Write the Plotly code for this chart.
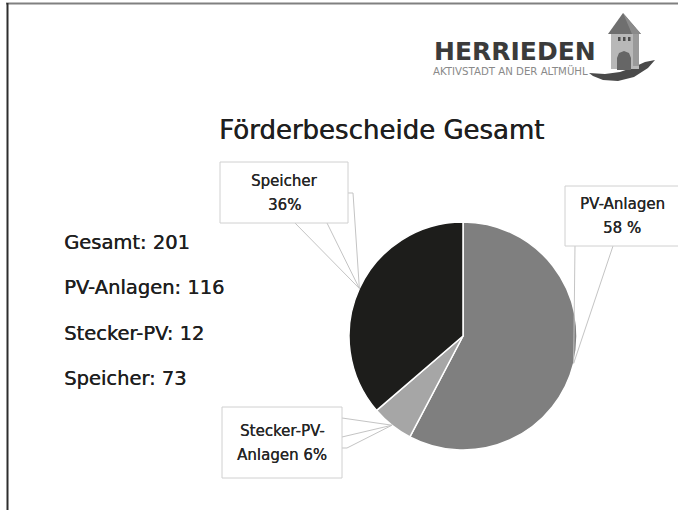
import math
import plotly.graph_objects as go

# ---------------- data ----------------
categories = ["PV-Anlagen", "Stecker-PV-Anlagen", "Speicher"]
counts = [116, 12, 73]
slice_colors = ["#7f7f7f", "#a6a6a6", "#1d1d1b"]
callout_lines = [["PV-Anlagen", "58 %"], ["Stecker-PV-", "Anlagen 6%"], ["Speicher", "36%"]]
summary_labels = ["Gesamt", "PV-Anlagen", "Stecker-PV", "Speicher"]
summary_values = [201, 116, 12, 73]
title_text = "Förderbescheide Gesamt"
logo_name = "HERRIEDEN"
logo_sub = "AKTIVSTADT AN DER ALTMÜHL"

# ---------------- geometry (pixels) ----------------
W, H = 678, 510
CX, CY, R = 463, 336, 114
FONT = "DejaVu Sans"


def X(p):
    return p / W


def Y(p):
    return 1 - p / H


def path(points, close=False):
    s = "M " + " L ".join(f"{X(a):.5f},{Y(b):.5f}" for a, b in points)
    return s + (" Z" if close else "")


fig = go.Figure()
fig.add_trace(go.Pie(
    labels=categories, values=counts, sort=False, direction="clockwise", rotation=0,
    marker=dict(colors=slice_colors, line=dict(color="white", width=1.5)),
    textinfo="none", showlegend=False, hoverinfo="label+value+percent",
    domain=dict(x=[X(CX - R), X(CX + R)], y=[Y(CY + R), Y(CY - R)]),
))

# slice mid-angle tips on the pie edge
total = sum(counts)
tips = []
acc = 0
for v in counts:
    mid = (acc + v / 2) / total * 2 * math.pi
    tips.append((CX + R * math.sin(mid), CY - R * math.cos(mid)))
    acc += v

shapes = []
annotations = []
LINE = dict(color="#c4c4c4", width=1)
BOX = dict(color="#d0d0d0", width=1)

# callout boxes: (x0, y0, x1, y1), connector segments
boxes = [
    (565, 186, 684, 246, [[(575, 246), "tip", (613, 246)]]),
    (222, 407, 342, 478, [[(342, 418), "tip"], [(342, 437), "tip"], [(342, 448), (347, 448), "tip"]]),
    (220, 162, 348, 223, [[(295, 223), "tip", (327, 223)], [(348, 193), (353, 193), "tip"]]),
]
for i, (x0, y0, x1, y1, segs) in enumerate(boxes):
    for seg in segs:
        pts = [tips[i] if p == "tip" else p for p in seg]
        shapes.append(dict(type="path", xref="paper", yref="paper", path=path(pts), line=LINE, layer="above"))
    shapes.append(dict(type="rect", xref="paper", yref="paper", x0=X(x0), x1=X(x1), y0=Y(y1), y1=Y(y0),
                       line=BOX, fillcolor="white", layer="above"))
    cx = (x0 + min(x1, W)) / 2 if i != 0 else 622
    cy = (y0 + y1) / 2
    for j, t in enumerate(callout_lines[i]):
        annotations.append(dict(x=X(cx), y=Y(cy - 12 + 24 * j), xref="paper", yref="paper", text=t,
                                showarrow=False, xanchor="center", yanchor="middle",
                                font=dict(family=FONT, size=15, color="#262626",
                                          shadow="0.3px 0 0 #262626")))

# summary text on the left
for k, (lab, val) in enumerate(zip(summary_labels, summary_values)):
    annotations.append(dict(x=X(62), y=Y(242 + 45.5 * k), xref="paper", yref="paper", text=f"{lab}: {val}",
                            showarrow=False, xanchor="left", yanchor="middle",
                            font=dict(family=FONT, size=19.5, color="#1f1f1f",
                                      shadow="0.4px 0 0 #1f1f1f")))

# title
annotations.append(dict(x=X(381), y=Y(130), xref="paper", yref="paper", text=title_text, showarrow=False,
                        xanchor="center", yanchor="middle",
                        font=dict(family=FONT, size=26, color="#1f1f1f", shadow="0.5px 0 0 #1f1f1f")))

# logo text
annotations.append(dict(x=X(432), y=Y(52), xref="paper", yref="paper", text=f"<b>{logo_name}</b>", showarrow=False,
                        xanchor="left", yanchor="middle", font=dict(family=FONT, size=25, color="#3b3b3b")))
annotations.append(dict(x=X(431), y=Y(71.5), xref="paper", yref="paper", text=logo_sub, showarrow=False,
                        xanchor="left", yanchor="middle", font=dict(family=FONT, size=10.2, color="#8a8a8a")))

# logo tower
shapes += [
    dict(type="path", xref="paper", yref="paper",
         path=path([(589, 73), (605, 74), (620, 72), (634, 67), (645, 62), (655, 60), (648, 68), (634, 77), (618, 81), (603, 80), (593, 76)], True),
         fillcolor="#4a4a4a", line=dict(width=0)),
    dict(type="rect", xref="paper", yref="paper", x0=X(611), x1=X(639), y0=Y(69), y1=Y(33),
         fillcolor="#b8b8b8", line=dict(width=0)),
    dict(type="rect", xref="paper", yref="paper", x0=X(633), x1=X(639), y0=Y(66), y1=Y(33),
         fillcolor="#9a9a9a", line=dict(width=0)),
    dict(type="path", xref="paper", yref="paper", path=path([(623, 13), (608, 34), (641, 34)], True),
         fillcolor="#6f6f6f", line=dict(width=0)),
    dict(type="path", xref="paper", yref="paper", path=path([(623, 13), (632, 34), (641, 34)], True),
         fillcolor="#8a8a8a", line=dict(width=0)),
    dict(type="path", xref="paper", yref="paper",
         path=path([(617, 70), (617, 58), (619, 53), (624, 51), (629, 53), (631, 58), (631, 70)], True),
         fillcolor="#666666", line=dict(width=0)),
]
for wx in (618, 623, 628):
    shapes.append(dict(type="rect", xref="paper", yref="paper", x0=X(wx), x1=X(wx + 2.5), y0=Y(41), y1=Y(37),
                       fillcolor="#4d4d4d", line=dict(width=0)))

# frame lines
shapes.append(dict(type="line", xref="paper", yref="paper", x0=X(6), x1=X(678), y0=Y(3.5), y1=Y(3.5),
                   line=dict(color="#808080", width=2)))
shapes.append(dict(type="line", xref="paper", yref="paper", x0=X(7.5), x1=X(7.5), y0=Y(3), y1=Y(510),
                   line=dict(color="#2e2e2e", width=2)))

fig.update_layout(
    width=W, height=H, margin=dict(l=0, r=0, t=0, b=0),
    paper_bgcolor="white", plot_bgcolor="white",
    shapes=shapes, annotations=annotations,
    xaxis=dict(visible=False), yaxis=dict(visible=False),
)
fig.write_html("out.html")
